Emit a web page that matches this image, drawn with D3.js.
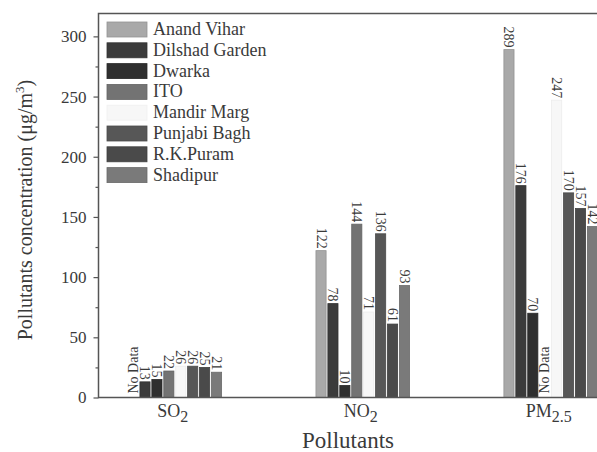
<!DOCTYPE html>
<html><head><meta charset="utf-8">
<script src="https://cdn.jsdelivr.net/npm/d3@7"></script>
<style>body{margin:0;background:#fff}svg{display:block}text{font-family:"Liberation Serif","Times New Roman",serif;fill:#3a3a3a}</style>
</head><body><svg id="c" width="597" height="452"></svg>
<script>
const groups = ["SO2", "NO2", "PM2.5"];
const stations = ["Anand Vihar","Dilshad Garden","Dwarka","ITO","Mandir Marg","Punjabi Bagh","R.K.Puram","Shadipur"];
const colors = ["#a9a9a9","#3b3b3b","#2f2f2f","#737373","#f7f7f7","#575757","#4a4a4a","#7a7a7a"];
// values per station, order: SO2, NO2, PM2.5 (null = No Data)
const anandVihar    = [null, 122, 289];
const dilshadGarden = [13, 78, 176];
const dwarka        = [15, 10, 70];
const ito           = [22, 144, null];
const mandirMarg    = [26, 71, 247];
const punjabiBagh   = [26, 136, 170];
const rkPuram       = [25, 61, 157];
const shadipur      = [21, 93, 142];
const seriesValues = [anandVihar, dilshadGarden, dwarka, ito, mandirMarg, punjabiBagh, rkPuram, shadipur];
const yTicks = [0, 50, 100, 150, 200, 250, 300];

const svg = d3.select("#c");
const L = 98.5, B = 397.5, T = 13.5, R = 627;
const x = d3.scalePoint().domain(groups).range([L, R]).padding(0.406);
const xs = d3.scaleBand().domain(stations).range([-46.8, 46.8]).paddingInner(0.15);
const y = d3.scaleLinear().domain([0, 319]).range([B, T]);

// bars
stations.forEach((s, si) => {
  groups.forEach((g, gi) => {
    const v = seriesValues[si][gi];
    const cx = x(g) + xs(s) + xs.bandwidth() / 2;
    if (v == null) {
      svg.append("text").attr("transform", `translate(${cx},${B - 4}) rotate(-90)`)
        .attr("text-anchor", "start").attr("dominant-baseline", "central")
        .attr("font-size", 14).text("No Data");
      return;
    }
    svg.append("rect").attr("x", x(g) + xs(s)).attr("width", xs.bandwidth())
      .attr("y", y(v)).attr("height", B - y(v))
      .attr("fill", colors[si]).attr("stroke", si === 4 ? "#ececec" : d3.color(colors[si]).darker(0.4)).attr("stroke-width", 0.8);
    svg.append("text").attr("transform", `translate(${cx},${y(v) - 2}) rotate(90)`)
      .attr("text-anchor", "end").attr("dominant-baseline", "central")
      .attr("font-size", 14).text(v);
  });
});

// frame
svg.append("path").attr("d", `M${R},${T}H${L}V${B}H${R}`).attr("fill", "none").attr("stroke", "#555").attr("stroke-width", 1.5);

// y axis
const yAxis = d3.axisLeft(y).tickValues(yTicks).tickSize(5).tickPadding(7);
const ga = svg.append("g").attr("transform", `translate(${L},0)`).call(yAxis);
ga.select(".domain").remove();
ga.selectAll("line").attr("stroke", "#555").attr("stroke-width", 1.2);
ga.selectAll("text").attr("font-size", 17).style("font-family", '"Liberation Serif",serif').attr("fill", "#3a3a3a");
const minor = d3.axisLeft(y).tickValues(yTicks.slice(0, -1).map(t => t + 25)).tickSize(3).tickFormat("");
const gm = svg.append("g").attr("transform", `translate(${L},0)`).call(minor);
gm.select(".domain").remove();
gm.selectAll("line").attr("stroke", "#555").attr("stroke-width", 1.2);

// group labels with subscripts
const subs = {"SO2": ["SO", "2"], "NO2": ["NO", "2"], "PM2.5": ["PM", "2.5"]};
groups.forEach(g => {
  const t = svg.append("text").attr("x", x(g) - 2).attr("y", 417).attr("text-anchor", "middle").attr("font-size", 18);
  t.append("tspan").text(subs[g][0]);
  t.append("tspan").attr("dy", 5).attr("font-size", 16).text(subs[g][1]);
});

// axis titles
svg.append("text").attr("x", 348).attr("y", 448).attr("text-anchor", "middle").attr("font-size", 23).text("Pollutants");
const yt = svg.append("text").attr("transform", "translate(32,210) rotate(-90)").attr("text-anchor", "middle").attr("font-size", 20);
yt.append("tspan").text("Pollutants concentration (\u03bcg/m");
yt.append("tspan").attr("dy", -8).attr("font-size", 13).text("3");
yt.append("tspan").attr("dy", 8).text(")");

// legend
stations.forEach((s, i) => {
  const ly = 22 + i * 20.8;
  svg.append("rect").attr("x", 107).attr("y", ly).attr("width", 40).attr("height", 15)
    .attr("fill", colors[i]).attr("stroke", i === 4 ? "#f0f0f0" : d3.color(colors[i]).darker(0.4)).attr("stroke-width", 0.8);
  svg.append("text").attr("x", 153).attr("y", ly + 13).attr("font-size", 18).attr("fill", "#444").text(s);
});
</script></body></html>
